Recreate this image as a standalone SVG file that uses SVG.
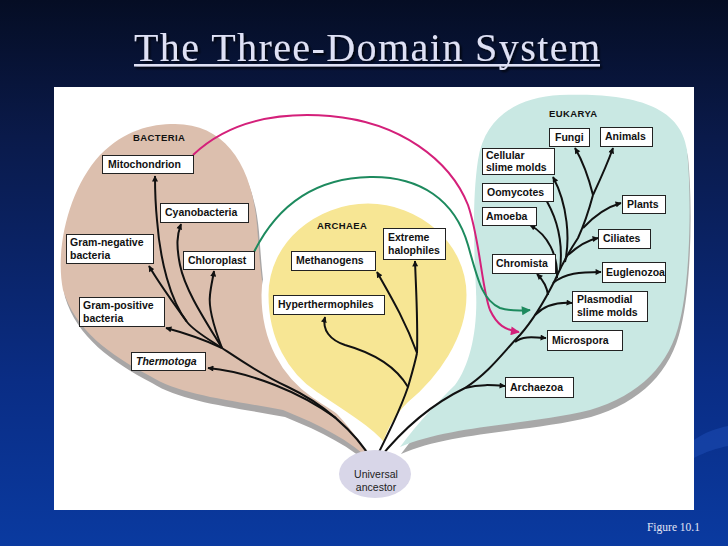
<svg xmlns="http://www.w3.org/2000/svg" width="728" height="546" viewBox="0 0 728 546">
<defs>
<linearGradient id="bg" x1="0" y1="0" x2="0" y2="1">
<stop offset="0" stop-color="#050d24"/>
<stop offset="0.25" stop-color="#0a1a4a"/>
<stop offset="0.7" stop-color="#0a2d85"/>
<stop offset="1" stop-color="#0a3aa0"/>
</linearGradient>
<filter id="sh" x="-5%" y="-20%" width="110%" height="150%"><feDropShadow dx="2" dy="2" stdDeviation="0.8" flood-color="#000" flood-opacity="0.75"/></filter>
<marker id="ab" viewBox="0 0 10 10" refX="9" refY="5" markerWidth="7" markerHeight="6" markerUnits="userSpaceOnUse" orient="auto"><path d="M0,0 L10,5 L0,10 Z" fill="#111"/></marker>
<marker id="am" viewBox="0 0 10 10" refX="9" refY="5" markerWidth="11" markerHeight="9" markerUnits="userSpaceOnUse" orient="auto"><path d="M0,0 L10,5 L0,10 Z" fill="#d4207a"/></marker>
<marker id="ag" viewBox="0 0 10 10" refX="9" refY="5" markerWidth="11" markerHeight="9" markerUnits="userSpaceOnUse" orient="auto"><path d="M0,0 L10,5 L0,10 Z" fill="#1d8a5e"/></marker>
</defs>
<style>
.box{fill:#fff;stroke:#222;stroke-width:1}
.lbl{font-family:"Liberation Sans",Arial,sans-serif;font-weight:bold;font-size:10.5px;fill:#111}
.hdr{font-family:"Liberation Sans",Arial,sans-serif;font-weight:bold;font-size:9.5px;fill:#111;letter-spacing:0.4px}
.br{fill:none;stroke:#111;stroke-width:2;marker-end:url(#ab)}
.st{fill:none;stroke:#111;stroke-width:2}
</style>
<rect width="728" height="546" fill="url(#bg)"/>
<path d="M694,440 C705,432 718,428 728,426 L728,446 C718,448 705,452 694,458 Z" fill="#1a4ab0" opacity="0.6"/>
<g id="title" filter="url(#sh)">
<text x="367" y="61" text-anchor="middle" textLength="466" lengthAdjust="spacing" font-family="'Liberation Serif','Times New Roman',serif" font-size="40" fill="#dfe1f5">The Three-Domain System</text>
<rect x="134" y="64" width="466" height="2.5" fill="#dfe1f5"/>
</g>
<text x="700" y="531" text-anchor="end" font-family="'Liberation Serif','Times New Roman',serif" font-size="11.5" fill="#e4e6f5">Figure 10.1</text>

<rect x="54" y="87" width="640" height="423" fill="#fff"/>

<g id="domain-bacteria">
<path d="M175,124 C225,124 252,165 257,225 C261,275 262,320 290,360 C315,395 350,420 372,462 C350,440 320,425 283,410 C230,400 180,395 150,376 C110,355 75,330 63,290 C55,250 68,190 100,155 C125,130 150,124 175,124 Z" fill="#a8a6a6" transform="translate(2,7)"/>
<path d="M175,124 C225,124 252,165 257,225 C261,275 262,320 290,360 C315,395 350,420 372,462 C350,440 320,425 283,410 C230,400 180,395 150,376 C110,355 75,330 63,290 C55,250 68,190 100,155 C125,130 150,124 175,124 Z" fill="#dcbfae"/>
<text class="hdr" x="133" y="141">BACTERIA</text>
</g>
<g id="domain-eukarya">
<path d="M560,95 C620,93 680,100 687,150 C692,200 690,280 680,320 C670,365 640,395 590,410 C530,425 450,425 400,447 C420,420 440,400 455,385 C470,365 478,330 476,290 C474,250 472,200 478,160 C485,115 520,97 560,95 Z" fill="#a8a8a8" transform="translate(1,7)"/>
<path d="M560,95 C620,93 680,100 687,150 C692,200 690,280 680,320 C670,365 640,395 590,410 C530,425 450,425 400,447 C420,420 440,400 455,385 C470,365 478,330 476,290 C474,250 472,200 478,160 C485,115 520,97 560,95 Z" fill="#c9e8e3"/>
<text class="hdr" x="549" y="117">EUKARYA</text>
</g>
<g id="domain-archaea">
<path d="M368,200 C420,200 470,240 470,295 C470,340 440,380 410,405 C395,420 388,435 385,450 C378,435 345,415 315,395 C285,375 265,340 265,295 C265,240 315,200 368,200 Z" fill="#f7e694" stroke="#fff" stroke-width="7"/>
<text class="hdr" x="317" y="229">ARCHAEA</text>
</g>

<g id="connectors">
<path class="st" d="M373,462 C355,430 320,402 288,387 C260,374 240,360 222,348"/>
<path class="br" d="M336,418 C300,392 250,372 208,368"/>
<path class="br" d="M222,348 C205,340 185,333 166,328"/>
<path class="st" d="M222,348 C210,340 195,332 187,322"/>
<path class="br" d="M187,322 C175,305 160,285 149,266"/>
<path class="br" d="M187,322 C170,300 160,260 157,220 C155,200 155,190 155,176"/>
<path class="br" d="M222,348 C205,320 185,290 180,265 C176,245 177,235 181,224"/>
<path class="br" d="M222,348 C215,330 208,310 210,295 C211,285 213,278 214,271"/>

<path class="st" d="M375,460 C390,430 400,410 408,387 C412,373 415,363 417,353"/>
<path class="br" d="M417,353 C418,320 416,290 415,261"/>
<path class="br" d="M417,353 C405,320 390,295 377,272"/>
<path class="br" d="M408,387 C395,365 370,352 345,345 C330,340 322,330 325,317"/>

<path class="st" d="M378,460 C410,420 440,400 465,388 C490,372 505,350 520,335 C535,318 545,300 555,280 C563,262 570,250 578,238 C584,225 589,210 593,195"/>
<path class="br" d="M465,388 C480,384 492,385 505,386"/>
<path class="br" d="M515,342 C522,336 532,337 546,338"/>
<path class="br" d="M535,315 C545,305 558,302 572,303"/>
<path class="br" d="M553,283 C565,273 580,272 601,272"/>
<path class="br" d="M548,295 C547,287 543,280 537,274"/>
<path class="br" d="M568,255 C578,246 588,240 598,238"/>
<path class="br" d="M583,228 C595,215 607,207 621,203"/>
<path class="br" d="M593,195 C588,175 582,160 575,148"/>
<path class="br" d="M593,195 C600,180 608,162 613,148"/>
<path class="br" d="M565,262 C570,240 568,205 553,177"/>
<path class="br" d="M560,270 C563,245 558,218 543,195"/>
<path class="br" d="M557,278 C558,255 548,235 530,225"/>

<path d="M193,155 C230,120 280,112 330,116 C400,122 450,160 468,205 C480,240 482,290 490,310 C497,325 505,330 519,332" fill="none" stroke="#d4207a" stroke-width="2" marker-end="url(#am)"/>
<path d="M254,252 C280,200 320,178 370,177 C420,176 455,200 468,245 C478,280 482,300 500,308 C510,311 520,311 530,310" fill="none" stroke="#1d8a5e" stroke-width="2" marker-end="url(#ag)"/>
</g>

<g id="node-ancestor">
<ellipse cx="375" cy="474" rx="36" ry="24" fill="#d8d6e8"/>
<text x="376" y="478" text-anchor="middle" font-family="'Liberation Sans',Arial,sans-serif" font-size="10.5" fill="#222">Universal</text>
<text x="376" y="491" text-anchor="middle" font-family="'Liberation Sans',Arial,sans-serif" font-size="10.5" fill="#222">ancestor</text>
</g>

<g id="node-mitochondrion"><rect class="box" x="102.5" y="155.5" width="91" height="18"/><text class="lbl" x="108" y="168">Mitochondrion</text></g>
<g id="node-cyanobacteria"><rect class="box" x="160.5" y="203.5" width="88" height="19"/><text class="lbl" x="165" y="216">Cyanobacteria</text></g>
<g id="node-gram-negative"><rect class="box" x="66.5" y="234.5" width="87" height="29"/><text class="lbl" x="70" y="246">Gram-negative</text><text class="lbl" x="70" y="259">bacteria</text></g>
<g id="node-chloroplast"><rect class="box" x="183.5" y="251.5" width="71" height="18"/><text class="lbl" x="188" y="264">Chloroplast</text></g>
<g id="node-gram-positive"><rect class="box" x="79.5" y="297.5" width="85" height="29"/><text class="lbl" x="83" y="309">Gram-positive</text><text class="lbl" x="83" y="322">bacteria</text></g>
<g id="node-thermotoga"><rect class="box" x="131.5" y="352.5" width="74" height="18"/><text class="lbl" x="136" y="365" font-style="italic">Thermotoga</text></g>

<g id="node-methanogens"><rect class="box" x="291.5" y="251.5" width="84" height="19"/><text class="lbl" x="296" y="264">Methanogens</text></g>
<g id="node-halophiles"><rect class="box" x="383.5" y="228.5" width="62" height="31"/><text class="lbl" x="388" y="241">Extreme</text><text class="lbl" x="388" y="254">halophiles</text></g>
<g id="node-hyperthermophiles"><rect class="box" x="273.5" y="295.5" width="111" height="19"/><text class="lbl" x="278" y="308">Hyperthermophiles</text></g>

<g id="node-fungi"><rect class="box" x="549.5" y="128.5" width="40" height="18"/><text class="lbl" x="555" y="141">Fungi</text></g>
<g id="node-animals"><rect class="box" x="600.5" y="127.5" width="52" height="19"/><text class="lbl" x="605" y="140">Animals</text></g>
<g id="node-cellular-slime"><rect class="box" x="482.5" y="148.5" width="72" height="26"/><text class="lbl" x="486" y="159">Cellular</text><text class="lbl" x="486" y="171">slime molds</text></g>
<g id="node-oomycotes"><rect class="box" x="482.5" y="183.5" width="71" height="18"/><text class="lbl" x="487" y="196">Oomycotes</text></g>
<g id="node-amoeba"><rect class="box" x="482.5" y="207.5" width="54" height="18"/><text class="lbl" x="486" y="220">Amoeba</text></g>
<g id="node-plants"><rect class="box" x="622.5" y="195.5" width="43" height="18"/><text class="lbl" x="627" y="208">Plants</text></g>
<g id="node-ciliates"><rect class="box" x="598.5" y="229.5" width="52" height="19"/><text class="lbl" x="603" y="242">Ciliates</text></g>
<g id="node-chromista"><rect class="box" x="492.5" y="254.5" width="63" height="19"/><text class="lbl" x="496" y="267">Chromista</text></g>
<g id="node-euglenozoa"><rect class="box" x="602.5" y="262.5" width="63" height="20"/><text class="lbl" x="606" y="276">Euglenozoa</text></g>
<g id="node-plasmodial"><rect class="box" x="572.5" y="291.5" width="75" height="30"/><text class="lbl" x="577" y="303">Plasmodial</text><text class="lbl" x="577" y="316">slime molds</text></g>
<g id="node-microspora"><rect class="box" x="547.5" y="330.5" width="75" height="20"/><text class="lbl" x="552" y="344">Microspora</text></g>
<g id="node-archaezoa"><rect class="box" x="505.5" y="377.5" width="68" height="20"/><text class="lbl" x="510" y="391">Archaezoa</text></g>
</svg>
